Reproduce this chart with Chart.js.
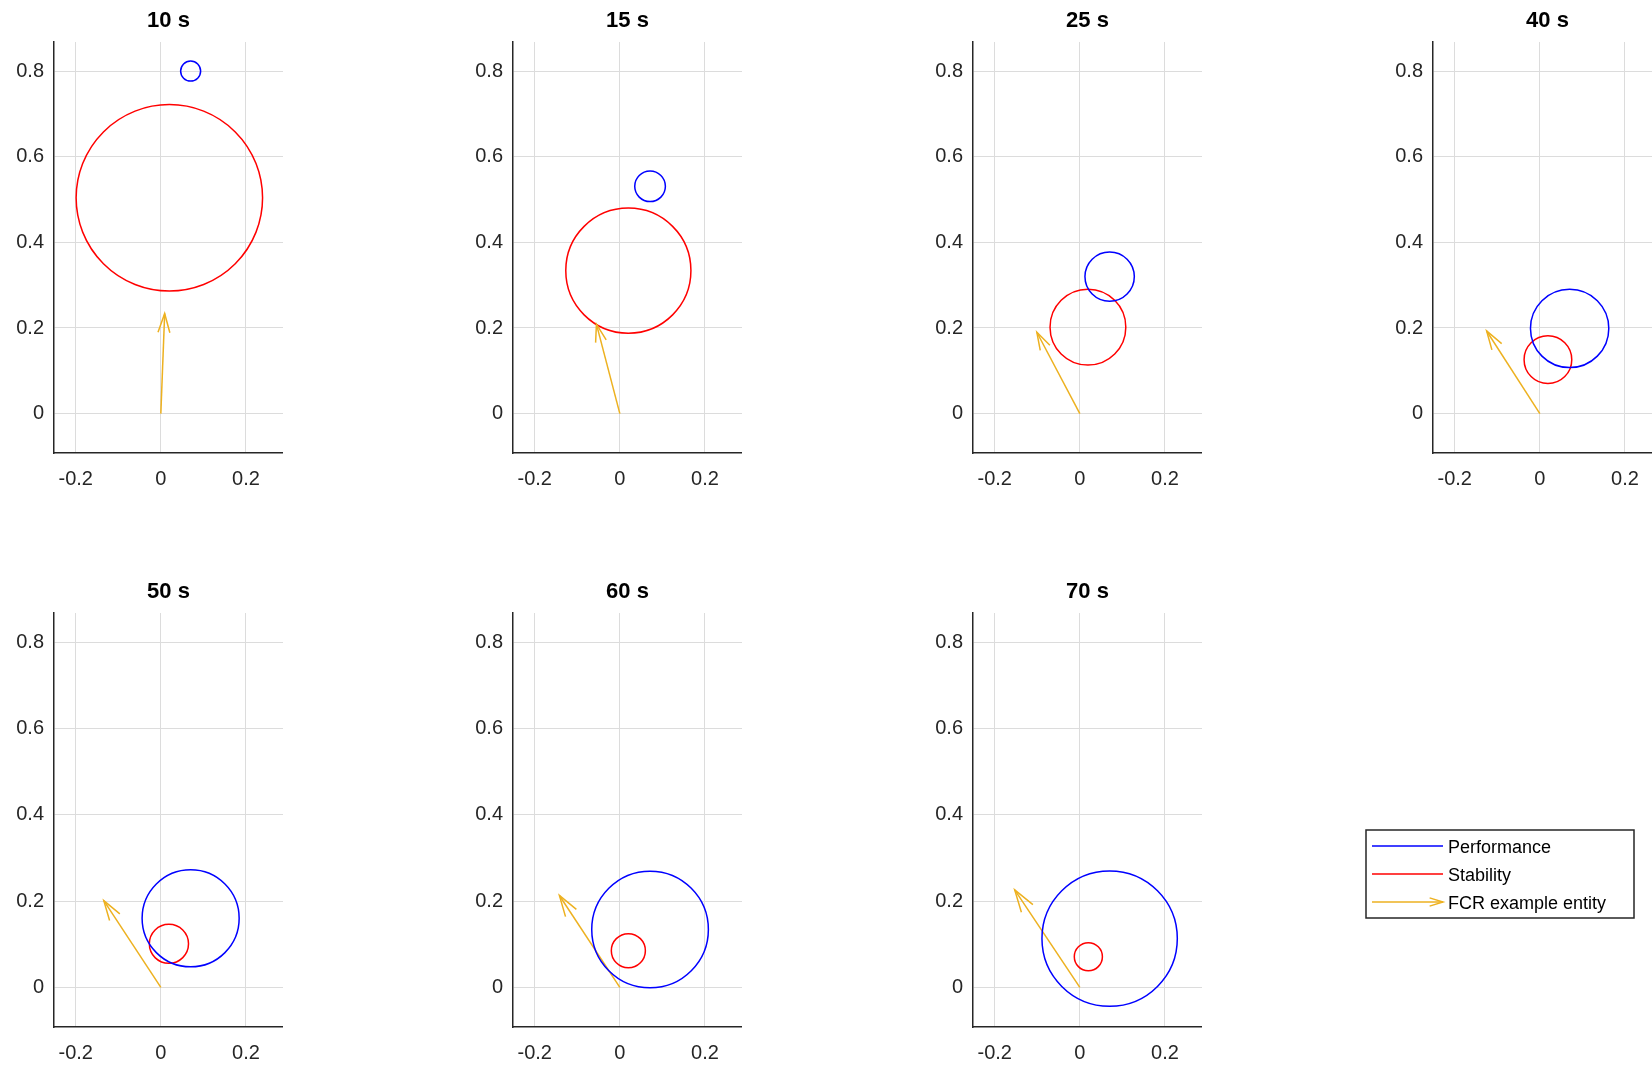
<!DOCTYPE html>
<html>
<head>
<meta charset="utf-8">
<title>Performance / Stability regions</title>
<script src="https://cdn.jsdelivr.net/npm/chart.js@4.4.1/dist/chart.umd.min.js"></script>
<style>
    html, body { margin: 0; padding: 0; background: #fff; overflow: hidden; }
    body { position: relative; width: 1652px; height: 1067px; }
    canvas { position: absolute; }
</style>
</head>
<body>
<script>
// Snapshot titles
const times = ['10 s', '15 s', '25 s', '40 s', '50 s', '60 s', '70 s'];

// Performance circle (blue): centre and radius
const perfX = [0.070, 0.071, 0.070, 0.070, 0.070, 0.071, 0.070];
const perfY = [0.800, 0.531, 0.320, 0.199, 0.160, 0.134, 0.113];
const perfR = [0.0235, 0.036, 0.058, 0.092, 0.114, 0.137, 0.159];

// Stability circle (red): centre and radius
const stabX = [0.020, 0.020, 0.019, 0.019, 0.019, 0.020, 0.020];
const stabY = [0.504, 0.334, 0.202, 0.126, 0.101, 0.085, 0.071];
const stabR = [0.219, 0.147, 0.089, 0.056, 0.046, 0.040, 0.033];

// FCR example entity arrow, from the origin to (u, v)
const fcrU = [0.009, -0.055, -0.101, -0.125, -0.134, -0.142, -0.153];
const fcrV = [0.234, 0.209, 0.190, 0.193, 0.201, 0.213, 0.226];

// Axes
const xTicks = [-0.2, 0, 0.2];
const yTicks = [0, 0.2, 0.4, 0.6, 0.8];
const xRange = [-0.251, 0.287];
const yRange = [-0.092, 0.868];

const seriesNames = ['Performance', 'Stability', 'FCR example entity'];
const seriesColors = ['#0000ff', '#ff0000', '#edb120'];

// Layout (pixels)
const FONT = '"Liberation Sans", Arial, Helvetica, sans-serif';
const colLeft = [54, 513, 973, 1433];
const rowTop = [42, 613];
const rowHeight = [411, 414];
const plotWidth = 229;
const yLabelWidth = 54;
const titleHeight = 42;
const xLabelHeight = 50;

// circle radius given in data units -> pixels via the x scale
function radiusPx(ctx) {
    if (!ctx.raw || ctx.raw.rad === undefined) return 0;
    const s = ctx.chart.scales.x;
    return Math.abs(s.getPixelForValue(ctx.raw.rad) - s.getPixelForValue(0));
}

function drawHead(ctx, from, to, len, half) {
    const ang = Math.atan2(to.y - from.y, to.x - from.x);
    ctx.beginPath();
    ctx.moveTo(to.x - len * Math.cos(ang - half), to.y - len * Math.sin(ang - half));
    ctx.lineTo(to.x, to.y);
    ctx.lineTo(to.x - len * Math.cos(ang + half), to.y - len * Math.sin(ang + half));
    ctx.stroke();
}

// quiver style arrow heads on datasets flagged with arrow: true
const arrowHeads = {
    id: 'arrowHeads',
    afterDatasetsDraw(chart) {
        const ctx = chart.ctx;
        chart.data.datasets.forEach((ds, i) => {
            if (!ds.arrow) return;
            const pts = chart.getDatasetMeta(i).data;
            if (pts.length < 2) return;
            const a = pts[0], b = pts[pts.length - 1];
            const len = Math.hypot(b.x - a.x, b.y - a.y) * 0.2;
            ctx.save();
            ctx.strokeStyle = ds.borderColor;
            ctx.lineWidth = ds.borderWidth;
            drawHead(ctx, a, b, len, 0.3);
            ctx.restore();
        });
    }
};

function addCanvas(left, top, width, height) {
    const c = document.createElement('canvas');
    c.width = width;
    c.height = height;
    c.style.left = left + 'px';
    c.style.top = top + 'px';
    c.style.width = width + 'px';
    c.style.height = height + 'px';
    document.body.appendChild(c);
    return c;
}

function circleDataset(label, x, y, r, color) {
    return {
        label: label,
        data: [{ x: x, y: y, rad: r }],
        borderColor: color,
        backgroundColor: 'rgba(0,0,0,0)',
        borderWidth: 1.5,
        pointRadius: radiusPx,
        pointHoverRadius: radiusPx,
        pointStyle: 'circle'
    };
}

function makeSubplot(i) {
    const col = i % 4;
    const row = Math.floor(i / 4);
    const h = rowHeight[row];
    const canvas = addCanvas(colLeft[col] - yLabelWidth, rowTop[row] - titleHeight,
        yLabelWidth + plotWidth, titleHeight + h + xLabelHeight);

    return new Chart(canvas, {
        type: 'scatter',
        data: {
            datasets: [
                circleDataset(seriesNames[0], perfX[i], perfY[i], perfR[i], seriesColors[0]),
                circleDataset(seriesNames[1], stabX[i], stabY[i], stabR[i], seriesColors[1]),
                {
                    label: seriesNames[2],
                    data: [{ x: 0, y: 0 }, { x: fcrU[i], y: fcrV[i] }],
                    showLine: true,
                    borderColor: seriesColors[2],
                    borderWidth: 1.5,
                    pointRadius: 0,
                    pointHoverRadius: 0,
                    arrow: true
                }
            ]
        },
        options: {
            responsive: false,
            animation: false,
            events: [],
            layout: { padding: 0 },
            plugins: {
                legend: { display: false },
                tooltip: { enabled: false },
                title: {
                    display: true,
                    text: times[i],
                    fullSize: false,
                    color: '#000000',
                    font: { family: FONT, size: 22, weight: 'bold', lineHeight: 1 },
                    padding: { top: 10, bottom: 10 }
                }
            },
            scales: {
                x: {
                    type: 'linear',
                    min: xRange[0],
                    max: xRange[1],
                    afterBuildTicks: s => { s.ticks = xTicks.map(v => ({ value: v })); },
                    afterFit: s => { s.height = xLabelHeight; },
                    grid: { color: '#dcdcdc', lineWidth: 1, drawTicks: false },
                    border: { color: '#262626', width: 1.5 },
                    ticks: {
                        color: '#262626',
                        padding: 14,
                        maxRotation: 0,
                        font: { family: FONT, size: 20 },
                        callback: v => String(v)
                    }
                },
                y: {
                    type: 'linear',
                    min: yRange[0],
                    max: yRange[1],
                    afterBuildTicks: s => { s.ticks = yTicks.map(v => ({ value: v })); },
                    afterFit: s => { s.width = yLabelWidth; },
                    grid: { color: '#dcdcdc', lineWidth: 1, drawTicks: false },
                    border: { color: '#262626', width: 1.5 },
                    ticks: {
                        color: '#262626',
                        padding: 10,
                        font: { family: FONT, size: 20 },
                        callback: v => String(v)
                    }
                }
            }
        },
        plugins: [arrowHeads]
    });
}

times.forEach((t, i) => makeSubplot(i));

// Legend box (own small chart, drawn from the series names and colours)
const legendBox = {
    id: 'legendBox',
    afterDraw(chart) {
        const ctx = chart.ctx;
        const w = chart.width, h = chart.height;
        ctx.save();
        ctx.strokeStyle = '#262626';
        ctx.lineWidth = 1.5;
        ctx.strokeRect(1, 1, w - 2, h - 2);
        ctx.font = '18px ' + FONT;
        ctx.textBaseline = 'middle';
        ctx.fillStyle = '#000000';
        chart.data.datasets.forEach((ds, k) => {
            const y = 17 + k * 28;
            ctx.strokeStyle = ds.borderColor;
            ctx.lineWidth = 1.5;
            ctx.beginPath();
            ctx.moveTo(7, y);
            ctx.lineTo(78, y);
            ctx.stroke();
            if (ds.arrow) drawHead(ctx, { x: 7, y: y }, { x: 78, y: y }, 14, 0.3);
            ctx.fillText(ds.label, 83, y + 2);
        });
        ctx.restore();
    }
};

new Chart(addCanvas(1365, 829, 270, 90), {
    type: 'scatter',
    data: {
        datasets: seriesNames.map((n, k) => ({
            label: n,
            data: [],
            borderColor: seriesColors[k],
            arrow: k === 2
        }))
    },
    options: {
        responsive: false,
        animation: false,
        events: [],
        plugins: { legend: { display: false }, tooltip: { enabled: false } },
        scales: { x: { display: false }, y: { display: false } }
    },
    plugins: [legendBox]
});
</script>
</body>
</html>
